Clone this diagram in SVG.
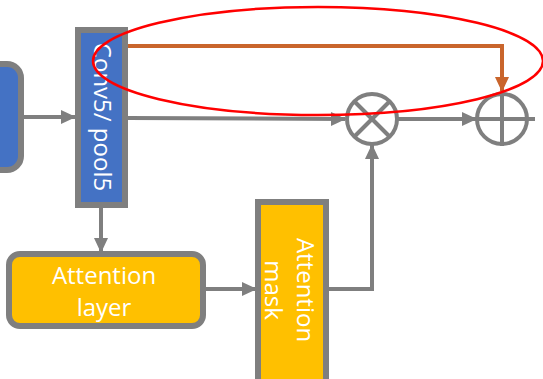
<svg xmlns="http://www.w3.org/2000/svg" width="543" height="379" viewBox="0 0 543 379">
<style>
.box{stroke:#7F7F7F;stroke-width:6}
.blue{fill:#4472C4}
.yel{fill:#FFC000}
.lbl{font-family:"Open Sans","Liberation Sans",sans-serif;font-size:24px;fill:#FFFFFF;text-anchor:middle}
.conn{fill:none;stroke:#7F7F7F;stroke-width:4}
.op{fill:none;stroke:#7F7F7F;stroke-width:4}
</style>
<defs>
<marker id="ag" markerUnits="userSpaceOnUse" markerWidth="16" markerHeight="16" viewBox="0 0 16 16" refX="14" refY="8" orient="auto">
<path d="M0,1 L15,8 L0,15 Z" fill="#7F7F7F"/>
</marker>
<marker id="ao" markerUnits="userSpaceOnUse" markerWidth="16" markerHeight="16" viewBox="0 0 16 16" refX="14" refY="8" orient="auto">
<path d="M0,1 L15,8 L0,15 Z" fill="#C9652C"/>
</marker>
</defs>
<rect width="543" height="379" fill="#FFFFFF"/>
<g id="connectors">
<line class="conn" x1="22" y1="117" x2="75" y2="117" marker-end="url(#ag)"/>
<line class="conn" x1="128" y1="118" x2="345" y2="119" marker-end="url(#ag)"/>
<line class="conn" x1="398" y1="119" x2="476" y2="119" marker-end="url(#ag)"/>
<line class="conn" x1="101" y1="208" x2="101" y2="252" marker-end="url(#ag)"/>
<line class="conn" x1="205" y1="289" x2="256" y2="289" marker-end="url(#ag)"/>
<path class="conn" d="M329 289 H372 V145" marker-end="url(#ag)"/>
<path d="M128 46 H502 V91" fill="none" stroke="#C9652C" stroke-width="4" marker-end="url(#ao)"/>
</g>
<g id="input">
<rect class="box blue" x="-30" y="64" width="51" height="106" rx="14"/>
</g>
<g id="conv5">
<rect class="box blue" x="78" y="30" width="47" height="175"/>
<text class="lbl" transform="translate(102,117) rotate(90)" y="8">Conv5/ pool5</text>
</g>
<g id="mult">
<circle class="op" cx="372" cy="119" r="25"/>
<line class="op" x1="354" y1="101" x2="390" y2="137"/>
<line class="op" x1="390" y1="101" x2="354" y2="137"/>
</g>
<g id="add">
<circle class="op" cx="502" cy="119" r="25"/>
<line class="op" x1="477" y1="119" x2="535" y2="119"/>
<line class="op" x1="502" y1="93" x2="502" y2="146"/>
</g>
<g id="attention-layer">
<rect class="box yel" x="9" y="254" width="194" height="72" rx="11"/>
<text class="lbl" x="104" y="284">Attention</text>
<text class="lbl" x="104" y="316">layer</text>
</g>
<g id="attention-mask">
<rect class="box yel" x="258" y="202" width="68" height="180"/>
<text class="lbl" transform="translate(292,290) rotate(90)"><tspan x="0" y="-5">Attention</tspan><tspan x="0" y="27">mask</tspan></text>
</g>
<ellipse cx="318" cy="61" rx="225" ry="54" fill="none" stroke="#FF0000" stroke-width="2.5"/>
</svg>
